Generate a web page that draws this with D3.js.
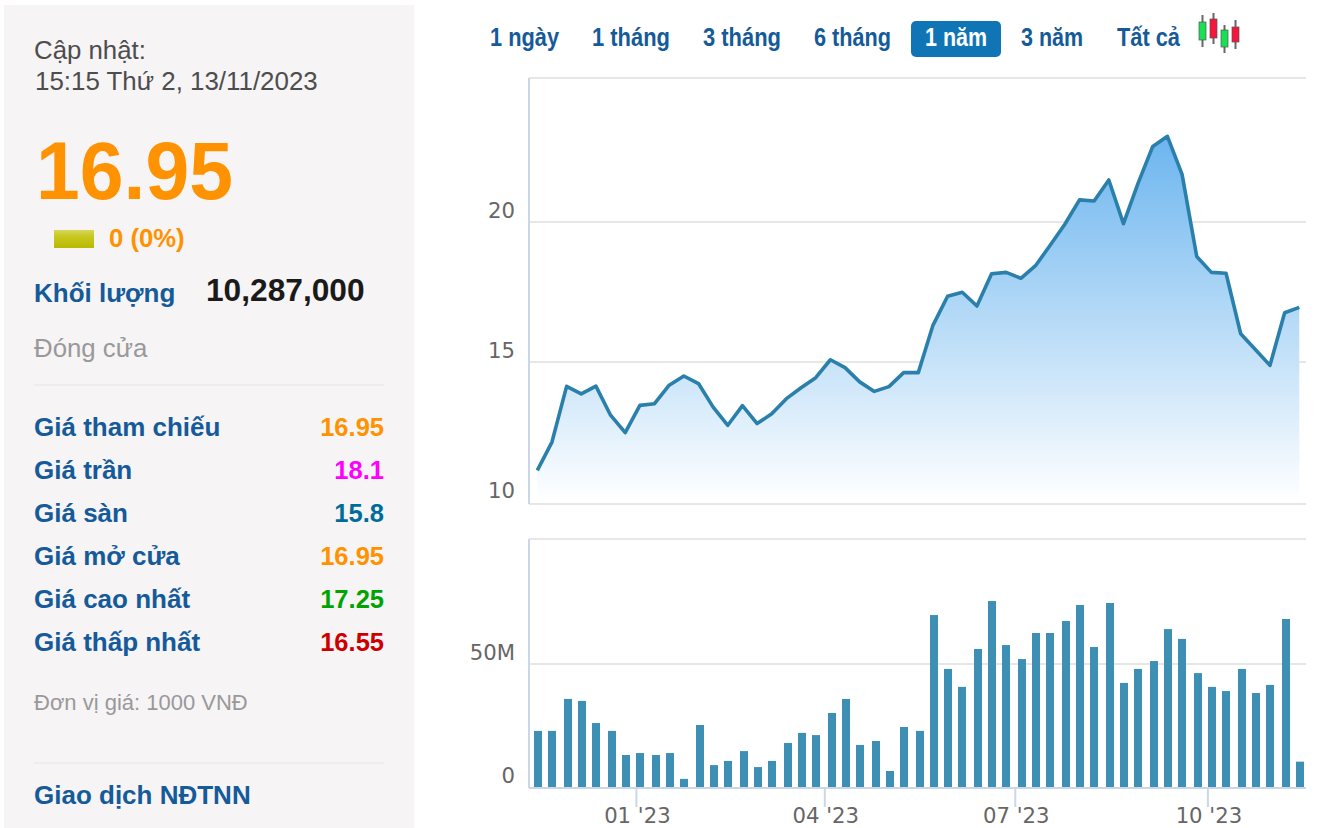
<!DOCTYPE html>
<html>
<head>
<meta charset="utf-8">
<script src="https://cdn.jsdelivr.net/npm/d3@7"></script>
<style>
html, body { margin: 0; padding: 0; background: #fff; overflow: hidden; }
svg { display: block; }
text { font-family: "Liberation Sans", Arial, sans-serif; }
.axis-label { font-family: "DejaVu Sans", sans-serif; font-size: 21.2px; fill: #666; }
</style>
</head>
<body>
<div id="chart"></div>
<script>
// one point per week, nov 2022 to nov 2023
const dates = [
  "2022-11-15","2022-11-22","2022-11-29","2022-12-06","2022-12-13","2022-12-20","2022-12-27",
  "2023-01-03","2023-01-10","2023-01-17","2023-01-24","2023-01-31","2023-02-07","2023-02-14",
  "2023-02-21","2023-02-28","2023-03-07","2023-03-14","2023-03-21","2023-03-28","2023-04-04",
  "2023-04-11","2023-04-18","2023-04-25","2023-05-02","2023-05-09","2023-05-16","2023-05-23",
  "2023-05-30","2023-06-06","2023-06-13","2023-06-20","2023-06-27","2023-07-04","2023-07-11",
  "2023-07-18","2023-07-25","2023-08-01","2023-08-08","2023-08-15","2023-08-22","2023-08-29",
  "2023-09-05","2023-09-12","2023-09-19","2023-09-26","2023-10-03","2023-10-10","2023-10-17",
  "2023-10-24","2023-10-31","2023-11-07","2023-11-14"
];
const prices = [
  11.13,12.14,14.13,13.86,14.14,13.10,12.48,13.45,13.51,14.17,14.50,14.23,13.39,12.74,
  13.44,12.80,13.15,13.69,14.08,14.44,15.08,14.80,14.29,13.95,14.12,14.62,14.62,16.31,
  17.35,17.49,17.00,18.15,18.20,17.99,18.44,19.17,19.92,20.79,20.75,21.50,19.94,21.39,
  22.70,23.06,21.70,18.77,18.20,18.17,16.01,15.45,14.88,16.76,16.95
];
const volumes = [
  22.8,22.8,35.8,35.0,26.0,22.8,13.0,13.8,13.0,13.8,3.3,25.2,8.9,10.6,14.6,8.1,10.6,17.9,
  22.0,21.1,30.1,35.8,17.1,18.7,6.5,24.4,22.8,69.9,48.0,40.7,56.1,75.6,57.7,52.0,62.6,62.6,
  67.5,74.0,56.9,74.8,42.3,48.0,51.2,64.2,60.2,46.3,40.7,39.0,48.0,38.2,41.5,68.3,10.3
];
const priceTicks = [10, 15, 20];
const volumeTicks = [0, 50];
const monthTicks = ["2023-01-01", "2023-04-01", "2023-07-01", "2023-10-01"];
const rangeTabs = ["1 ngày", "1 tháng", "3 tháng", "6 tháng", "1 năm", "3 năm", "Tất cả"];
const quoteRows = ["Giá tham chiếu", "Giá trần", "Giá sàn", "Giá mở cửa", "Giá cao nhất", "Giá thấp nhất"];
const quoteValues = ["16.95", "18.1", "15.8", "16.95", "17.25", "16.55"];
const quoteColors = ["#ff9200", "#ff00ff", "#006c9b", "#ff9200", "#00a400", "#cc0000"];

const width = 1318, height = 828;
const blue = "#155a99";
const parse = d3.utcParse("%Y-%m-%d");
const fmtMonth = d3.utcFormat("%m '%y");

const svg = d3.select("#chart").append("svg")
  .attr("width", width)
  .attr("height", height);

const defs = svg.append("defs");
const areaGrad = defs.append("linearGradient")
  .attr("id", "areaGrad")
  .attr("x1", 0).attr("y1", 0).attr("x2", 0).attr("y2", 1);
areaGrad.append("stop").attr("offset", "0%").attr("stop-color", "#6cb5ef");
areaGrad.append("stop").attr("offset", "100%").attr("stop-color", "#ffffff");
const flatGrad = defs.append("linearGradient")
  .attr("id", "flatGrad")
  .attr("x1", 0).attr("y1", 0).attr("x2", 0).attr("y2", 1);
flatGrad.append("stop").attr("offset", "0%").attr("stop-color", "#d6d65e");
flatGrad.append("stop").attr("offset", "35%").attr("stop-color", "#c8c820");
flatGrad.append("stop").attr("offset", "100%").attr("stop-color", "#b9b900");

// left panel
const panel = svg.append("g");
panel.append("rect")
  .attr("x", 4).attr("y", 5)
  .attr("width", 410).attr("height", 823)
  .attr("fill", "#f6f4f5");

function label(txt, x, y, size, color, weight, anchor) {
  return panel.append("text")
    .attr("x", x).attr("y", y)
    .attr("font-size", size)
    .attr("font-weight", weight || "normal")
    .attr("text-anchor", anchor || "start")
    .attr("fill", color)
    .text(txt);
}

label("Cập nhật:", 34, 59, 25.8, "#4d4d4d");
label("15:15 Thứ 2, 13/11/2023", 35, 90, 25.9, "#4d4d4d");
label("16.95", 36, 199, 81, "#ff9200", "bold")
  .attr("textLength", 197)
  .attr("lengthAdjust", "spacingAndGlyphs");
panel.append("rect")
  .attr("x", 54).attr("y", 230)
  .attr("width", 40).attr("height", 18)
  .attr("fill", "url(#flatGrad)");
label("0 (0%)", 109, 247, 25.7, "#ff9200", "bold");
label("Khối lượng", 34, 302, 26, blue, "bold");
label("10,287,000", 206, 301, 31.7, "#1a1a1a", "bold");
label("Đóng cửa", 34, 357, 25.8, "#999");
panel.append("line")
  .attr("x1", 34).attr("x2", 384)
  .attr("y1", 385).attr("y2", 385)
  .attr("stroke", "#ebebeb").attr("stroke-width", 1.5);

quoteRows.forEach((d, i) => {
  const y = 436 + i * 43;
  label(d, 34, y, 26, blue, "bold");
  label(quoteValues[i], 384, y, 25.5, quoteColors[i], "bold", "end");
});

label("Đơn vị giá: 1000 VNĐ", 34, 710, 22, "#999");
panel.append("line")
  .attr("x1", 34).attr("x2", 384)
  .attr("y1", 763).attr("y2", 763)
  .attr("stroke", "#ebebeb").attr("stroke-width", 1.5);
label("Giao dịch NĐTNN", 34, 804, 26, blue, "bold");

// range tabs
const tabX = [490, 592, 703, 814, 925, 1021, 1117];
const tabW = [69, 78, 78, 77, 62, 62, 63];
const tabs = svg.append("g");
tabs.append("rect")
  .attr("x", 911).attr("y", 21)
  .attr("width", 90).attr("height", 36)
  .attr("rx", 5)
  .attr("fill", "#0f75b5");
rangeTabs.forEach((d, i) => {
  tabs.append("text")
    .attr("x", tabX[i]).attr("y", 46)
    .attr("font-size", 25)
    .attr("font-weight", "bold")
    .attr("textLength", tabW[i])
    .attr("lengthAdjust", "spacingAndGlyphs")
    .attr("fill", d === "1 năm" ? "#fff" : blue)
    .text(d);
});

// candle icon
const candleX = [1199, 1210, 1221, 1232];
const candleTop = [22, 19, 30, 27];
const candleBottom = [40, 38, 47, 42];
const wickTop = [15, 13, 25, 20];
const wickBottom = [47, 44, 53, 49];
const candleFill = ["#18e055", "#f5163c", "#18e055", "#f5163c"];
const candles = svg.append("g");
candleX.forEach((x, i) => {
  candles.append("line")
    .attr("x1", x + 3.5).attr("x2", x + 3.5)
    .attr("y1", wickTop[i]).attr("y2", wickBottom[i])
    .attr("stroke", "#666").attr("stroke-width", 2);
  candles.append("rect")
    .attr("x", x).attr("y", candleTop[i])
    .attr("width", 7).attr("height", candleBottom[i] - candleTop[i])
    .attr("fill", candleFill[i])
    .attr("stroke", "#555").attr("stroke-width", 0.7);
});

// scales
const x = d3.scaleUtc()
  .domain([parse(dates[0]), parse(dates[dates.length - 1])])
  .range([538, 1300]);
const yPrice = d3.scaleLinear().domain([10, 25]).range([502, 82]);
const yVol = d3.scaleLinear().domain([0, 50]).range([787, 664]);

const plotLeft = 529, plotRight = 1306;
const gridColor = "#e7e7e7", axisColor = "#ccd6eb";

// price pane frame and grid
const pricePane = svg.append("g");
pricePane.append("line")
  .attr("x1", plotLeft).attr("x2", plotRight)
  .attr("y1", 78).attr("y2", 78)
  .attr("stroke", gridColor).attr("stroke-width", 2);
pricePane.selectAll(".grid")
  .data(priceTicks.slice(1))
  .join("line")
    .attr("x1", plotLeft).attr("x2", plotRight)
    .attr("y1", d => yPrice(d)).attr("y2", d => yPrice(d))
    .attr("stroke", gridColor).attr("stroke-width", 2);
pricePane.append("line")
  .attr("x1", plotLeft).attr("x2", plotRight)
  .attr("y1", 504).attr("y2", 504)
  .attr("stroke", gridColor).attr("stroke-width", 2);
pricePane.append("line")
  .attr("x1", plotLeft).attr("x2", plotLeft)
  .attr("y1", 78).attr("y2", 504)
  .attr("stroke", axisColor).attr("stroke-width", 2);

const points = dates.map((d, i) => ({ date: parse(d), price: prices[i], vol: volumes[i] }));

pricePane.append("path")
  .datum(points)
  .attr("transform", "translate(-0.7,0)")
  .attr("fill", "url(#areaGrad)")
  .attr("d", d3.area()
    .x(d => x(d.date))
    .y0(yPrice(10))
    .y1(d => yPrice(d.price)));
pricePane.append("path")
  .datum(points)
  .attr("transform", "translate(-0.7,0)")
  .attr("fill", "none")
  .attr("stroke", "#2a80ab")
  .attr("stroke-width", 3.6)
  .attr("stroke-linejoin", "round")
  .attr("d", d3.line()
    .x(d => x(d.date))
    .y(d => yPrice(d.price)));

pricePane.selectAll(".lbl")
  .data(priceTicks)
  .join("text")
    .attr("class", "axis-label")
    .attr("x", 515)
    .attr("y", d => yPrice(d) - 4)
    .attr("text-anchor", "end")
    .text(d => d);

// volume pane
const volPane = svg.append("g");
volPane.append("line")
  .attr("x1", plotLeft).attr("x2", plotRight)
  .attr("y1", 539).attr("y2", 539)
  .attr("stroke", gridColor).attr("stroke-width", 2);
volPane.append("line")
  .attr("x1", plotLeft).attr("x2", plotRight)
  .attr("y1", yVol(50)).attr("y2", yVol(50))
  .attr("stroke", gridColor).attr("stroke-width", 2);
volPane.append("line")
  .attr("x1", plotLeft).attr("x2", plotLeft)
  .attr("y1", 539).attr("y2", 788)
  .attr("stroke", axisColor).attr("stroke-width", 2);

volPane.selectAll(".bar")
  .data(points)
  .join("rect")
    .attr("x", d => Math.round(x(d.date) / 2) * 2 - 4)
    .attr("y", d => yVol(d.vol))
    .attr("width", 8)
    .attr("height", d => yVol(0) - yVol(d.vol))
    .attr("fill", "#3d8fb4");

volPane.append("line")
  .attr("x1", plotLeft).attr("x2", plotRight)
  .attr("y1", 788).attr("y2", 788)
  .attr("stroke", axisColor).attr("stroke-width", 2);

volPane.selectAll(".tick")
  .data(monthTicks)
  .join("line")
    .attr("x1", d => x(parse(d))).attr("x2", d => x(parse(d)))
    .attr("y1", 788).attr("y2", 807)
    .attr("stroke", axisColor).attr("stroke-width", 2);

volPane.selectAll(".xlbl")
  .data(monthTicks)
  .join("text")
    .attr("class", "axis-label")
    .attr("x", d => x(parse(d)) + 1)
    .attr("y", 823)
    .attr("text-anchor", "middle")
    .text(d => fmtMonth(parse(d)));

volPane.selectAll(".vlbl")
  .data(volumeTicks)
  .join("text")
    .attr("class", "axis-label")
    .attr("x", 515)
    .attr("y", d => yVol(d) - 4)
    .attr("text-anchor", "end")
    .text(d => d === 0 ? "0" : d + "M");
</script>
</body>
</html>
